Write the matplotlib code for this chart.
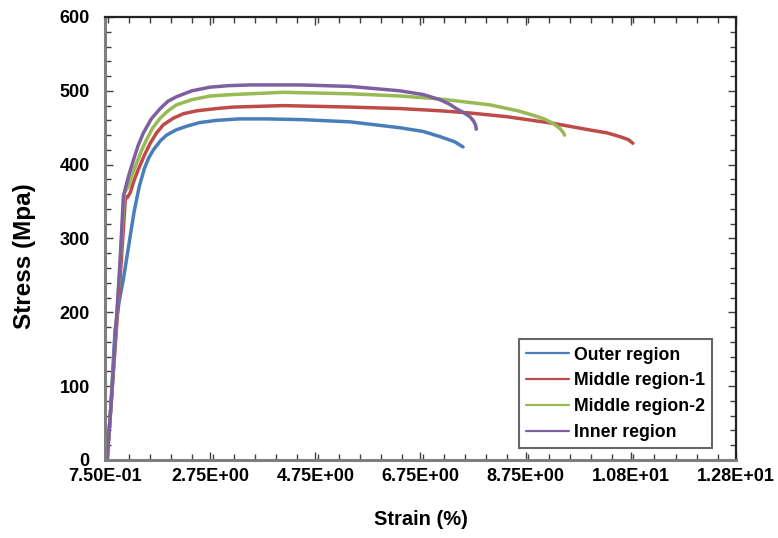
import matplotlib
matplotlib.use("Agg")
import matplotlib.pyplot as plt
from matplotlib.ticker import MultipleLocator, FixedLocator

plt.rcParams["font.family"] = ["Liberation Sans", "DejaVu Sans"]
plt.rcParams["font.weight"] = "bold"

# strain (%) / stress (MPa)
outer_strain = [0.79, 0.85, 0.94, 1.02, 1.10, 1.20, 1.30, 1.40, 1.50, 1.58, 1.67, 1.80, 1.92, 2.10,
                2.30, 2.55, 2.87, 3.30, 3.82, 4.50, 5.41, 6.36, 6.80, 7.12, 7.40, 7.56]
outer_stress = [0, 59, 176, 215, 245, 290, 335, 370, 395, 409, 420, 432, 440, 447,
                452, 457, 460, 462, 462, 461, 458, 450, 445, 438, 431, 424]

mid1_strain = [0.79, 0.88, 0.97, 1.06, 1.14, 1.17, 1.23, 1.30, 1.38, 1.50, 1.61, 1.73, 1.86, 2.05,
               2.24, 2.50, 2.87, 3.19, 4.14, 5.41, 6.36, 7.12, 7.69, 8.39, 9.27, 9.97,
               10.30, 10.54, 10.70, 10.79]
mid1_stress = [0, 90, 180, 270, 357, 355, 362, 378, 393, 413, 429, 443, 454, 463,
               469, 473, 476, 478, 480, 478, 476, 473, 470, 465, 456, 447,
               443, 438, 434, 429]

mid2_strain = [0.79, 0.88, 0.96, 1.04, 1.12, 1.19, 1.27, 1.35, 1.45, 1.54, 1.66, 1.80, 1.95, 2.11,
               2.40, 2.75, 3.19, 4.14, 5.41, 6.36, 7.12, 8.07, 8.60, 8.89, 9.10, 9.27,
               9.40, 9.46, 9.49]
mid2_stress = [0, 90, 180, 270, 362, 370, 387, 402, 420, 434, 450, 463, 473, 481,
               488, 493, 495, 498, 496, 493, 489, 481, 473, 467, 462, 456,
               449, 444, 440]

inner_strain = [0.79, 0.87, 0.95, 1.03, 1.10, 1.13, 1.20, 1.29, 1.38, 1.48, 1.63, 1.80, 1.95,
                2.11, 2.40, 2.75, 3.10, 3.51, 4.46, 5.41, 6.36, 6.80, 7.12, 7.30, 7.43,
                7.58, 7.69, 7.76, 7.80, 7.81]
inner_stress = [0, 80, 170, 260, 357, 366, 385, 406, 426, 443, 462, 476, 486,
                492, 500, 505, 507, 508, 508, 506, 500, 495, 488, 482, 476,
                470, 465, 459, 453, 448]

series = [
    ("Outer region", outer_strain, outer_stress, "#4A7EBB"),
    ("Middle region-1", mid1_strain, mid1_stress, "#BE4B48"),
    ("Middle region-2", mid2_strain, mid2_stress, "#98B954"),
    ("Inner region", inner_strain, inner_stress, "#7D60A0"),
]

x_ticks = [0.75, 2.75, 4.75, 6.75, 8.75, 10.75, 12.75]
x_labels = ["7.50E-01", "2.75E+00", "4.75E+00", "6.75E+00", "8.75E+00", "1.08E+01", "1.28E+01"]

fig = plt.figure(figsize=(7.78, 5.38), dpi=100)
ax = fig.add_axes([105 / 778, 1 - 460 / 538, 631 / 778, 443 / 538])

for name, xs, ys, color in series:
    ax.plot(xs, ys, color=color, linewidth=2.5, label=name,
            solid_joinstyle="round", solid_capstyle="round")

ax.set_xlim(0.75, 12.75)
ax.set_ylim(0, 600)
ax.xaxis.set_major_locator(FixedLocator(x_ticks))
ax.set_xticklabels(x_labels)
ax.xaxis.set_minor_locator(MultipleLocator(0.4))
ax.yaxis.set_major_locator(MultipleLocator(100))
ax.yaxis.set_minor_locator(MultipleLocator(20))

ax.tick_params(which="both", direction="in", top=True, right=True, color="#404040", width=1)
ax.tick_params(which="major", length=6, labelsize=13)
ax.tick_params(which="minor", length=4)
ax.tick_params(axis="y", which="major", pad=11)
ax.tick_params(axis="x", which="major", pad=6)

for side in ["left", "bottom"]:
    ax.spines[side].set_color("#7f7f7f")
    ax.spines[side].set_linewidth(2.2)
for side in ["top", "right"]:
    ax.spines[side].set_color("#222222")
    ax.spines[side].set_linewidth(1.6)

ax.set_xlabel("Strain (%)", fontsize=14.5, fontweight="bold", labelpad=18)
ax.set_ylabel("Stress (Mpa)", fontsize=17.5, fontweight="bold", labelpad=17)
ax.yaxis.label.set_y(0.46)

leg = ax.legend(loc="lower right", bbox_to_anchor=(0.962, 0.027), borderaxespad=0,
                fontsize=12.7, frameon=True, fancybox=False, handlelength=2.4,
                handletextpad=0.3, labelspacing=0.5, borderpad=0.4)
leg.get_frame().set_edgecolor("#404040")
leg.get_frame().set_linewidth(1.5)
for line in leg.get_lines():
    line.set_linewidth(1.6)

fig.savefig("out.png", dpi=100)
